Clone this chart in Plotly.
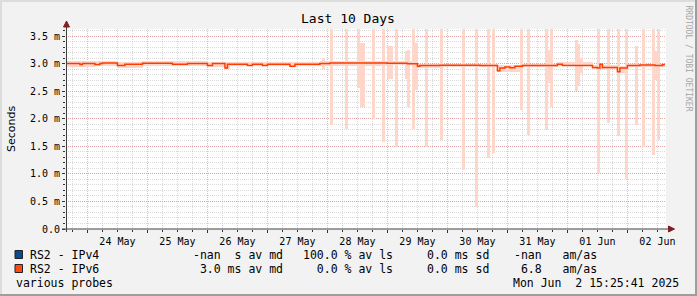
import plotly.graph_objects as go
import pandas as pd

# ---------------- data ----------------
END = pd.Timestamp("2025-06-02 15:25:41")
START = END - pd.Timedelta(days=10)
BASE = pd.Timestamp("2025-05-24 00:00:00")   # hour offsets below are relative to this

# IPv6 median RTT (ms) - step change points (hour offset, value)
med_t = [-9, -3, -2, 3, 5, 6, 12, 15, 22, 34, 40, 48, 50, 55, 56, 64, 66, 70, 72, 81,
         83, 93, 97, 120, 128, 132, 133, 141, 157, 164, 165, 167, 169, 171, 174, 188, 190, 202, 204, 205,
         206, 212, 213, 216, 221, 227, 230, 231]
med_v = [3.00, 2.985, 3.00, 2.985, 3.00, 3.01, 2.965, 2.99, 3.005, 2.99, 3.00, 2.965, 3.00, 2.92, 2.99, 2.965, 2.99, 2.965, 2.99, 2.95,
         2.99, 3.00, 3.01, 3.005, 2.995, 2.95, 2.965, 2.97, 2.965, 2.87, 2.92, 2.94, 2.925, 2.95, 2.965, 2.99, 2.965, 2.93, 2.92, 2.99,
         2.93, 2.85, 2.92, 2.965, 2.975, 2.965, 2.985, 2.985]

# smoke band around the median (hour offset, low, high)
band_t = [-9, 3, 12, 22, 48, 55, 57, 81, 84, 93, 120, 132, 141, 164, 174, 188, 202, 212, 216, 231]
band_hi = [3.04, 3.04, 3.03, 3.04, 3.03, 3.02, 3.03, 3.02, 3.03, 3.04, 3.04, 3.00, 3.00, 2.97, 3.00, 3.02, 2.97, 2.95, 3.00, 3.00]
band_lo = [2.94, 2.95, 2.92, 2.96, 2.93, 2.90, 2.95, 2.93, 2.95, 2.96, 2.97, 2.92, 2.93, 2.85, 2.93, 2.95, 2.90, 2.83, 2.93, 2.93]

# smoke spikes (hour offset, low, high)
spike_h = [94, 97, 103, 108, 109, 110, 114, 118, 120, 121, 123, 127, 128, 130, 131, 135, 141, 150, 155, 160,
           162, 173, 176, 183, 184, 185, 195, 196, 197, 204, 208, 212, 215, 219, 222, 226, 227, 228]
spike_lo = [2.90, 1.88, 1.81, 2.55, 2.21, 2.21, 2.00, 1.57, 2.72, 2.72, 1.48, 2.72, 2.21, 1.81, 2.52, 1.49, 1.62, 1.07, 0.40, 1.29,
            1.37, 2.15, 1.71, 1.80, 2.65, 2.22, 2.50, 2.60, 2.83, 1.01, 1.93, 1.68, 0.91, 1.89, 1.48, 1.34, 2.70, 1.62]
spike_hi = [3.10, 3.80, 3.80, 3.80, 3.38, 3.38, 3.80, 3.80, 3.31, 3.31, 3.80, 3.22, 3.25, 3.80, 3.37, 3.80, 3.80, 3.80, 3.80, 3.80,
            3.80, 3.80, 3.80, 3.80, 3.25, 3.80, 3.43, 3.35, 3.10, 3.80, 3.80, 3.80, 3.80, 3.31, 3.80, 3.80, 3.22, 3.80]

y_tick_vals = [0.0, 0.5, 1.0, 1.5, 2.0, 2.5, 3.0, 3.5]
y_tick_text = ["0.0", "0.5 m", "1.0 m", "1.5 m", "2.0 m", "2.5 m", "3.0 m", "3.5 m"]

title = "Last 10 Days"
y_title = "Seconds"
legend_names = ["RS2 - IPv4", "RS2 - IPv6"]
legend_colors = ["#0B4A8B", "#FF4A10"]
col_md = ["-nan  s av md", " 3.0 ms av md"]
col_ls = ["100.0 % av ls", "  0.0 % av ls"]
col_sd = ["0.0 ms sd", "0.0 ms sd"]
col_am = ["-nan   am/as", " 6.8   am/as"]
footer_left = "various probes"
footer_right = "Mon Jun  2 15:25:41 2025"
watermark = "RRDTOOL / TOBI OETIKER"

# ---------------- geometry ----------------
W, H = 697, 296
L, T, PW, PH = 66, 29, 600, 200
B = H - T - PH
R = W - L - PW
MONO = "DejaVu Sans Mono"


def px2x(px):
    return (px - L) / PW


def px2y(py):
    return (T + PH - py) / PH


def hts(h):
    return BASE + pd.to_timedelta(h, unit="h")


# hourly smoke table built from band + spikes
hours = list(range(-9, 231))
s_lo, s_hi = [], []
for h in hours:
    i = max(k for k, t in enumerate(band_t) if t <= h)
    lo, hi = band_lo[i], band_hi[i]
    if h in spike_h:
        j = spike_h.index(h)
        lo, hi = min(lo, spike_lo[j]), max(hi, spike_hi[j])
    s_lo.append(lo)
    s_hi.append(hi)

fig = go.Figure()
fig.add_trace(go.Bar(
    x=[hts(h + 0.5) for h in hours],
    y=[u - l for l, u in zip(s_lo, s_hi)],
    base=s_lo,
    width=3600000 * 1.2,
    marker=dict(color="#FFD6CA", line=dict(width=0)),
    hoverinfo="skip",
))
fig.add_trace(go.Scatter(
    x=[hts(h) for h in med_t], y=med_v, mode="lines",
    line=dict(color="#FF3C00", width=1.5, shape="hv"), hoverinfo="skip",
))

grid_major = "rgba(225,100,100,0.45)"
grid_minor = "rgba(140,140,140,0.32)"

fig.update_layout(
    width=W, height=H,
    margin=dict(l=L, r=R, t=T, b=B, pad=0),
    paper_bgcolor="#F2F2F2", plot_bgcolor="#FFFFFF",
    showlegend=False, bargap=0,
    font=dict(family=MONO, size=10, color="#000000"),
)
fig.update_xaxes(
    type="date", range=[START, END], fixedrange=True,
    showline=False, zeroline=False,
    showgrid=True, gridcolor=grid_major, griddash="1px,1px", gridwidth=1,
    tick0=BASE, dtick=86400000, tickformat="%d %b", ticklabelmode="period",
    ticks="outside", ticklen=3, tickcolor="#333333",
    tickfont=dict(family=MONO, size=10, color="#000000"),
    minor=dict(tickmode="linear", tick0=BASE, dtick=21600000, showgrid=True,
               gridcolor=grid_minor, griddash="1px,1px", gridwidth=1,
               ticks="outside", ticklen=2, tickcolor="#333333"),
)
fig.update_yaxes(
    range=[0, 3.627], fixedrange=True,
    showline=False, zeroline=False,
    tickmode="array", tickvals=y_tick_vals, ticktext=y_tick_text,
    showgrid=True, gridcolor=grid_major, griddash="1px,1px", gridwidth=1,
    ticks="outside", ticklen=3, tickcolor="#333333",
    tickfont=dict(family=MONO, size=10, color="#000000"),
    minor=dict(tickmode="linear", tick0=0, dtick=0.1, showgrid=True,
               gridcolor=grid_minor, griddash="1px,1px", gridwidth=1,
               ticks="outside", ticklen=2, tickcolor="#333333"),
)

shapes = []
# image border (3D shade)
shapes.append(dict(type="rect", xref="paper", yref="paper", x0=px2x(0), x1=px2x(W), y0=px2y(H), y1=px2y(H - 2),
                   fillcolor="#9E9E9E", line=dict(width=0)))
shapes.append(dict(type="rect", xref="paper", yref="paper", x0=px2x(W - 2), x1=px2x(W), y0=px2y(H), y1=px2y(0),
                   fillcolor="#9E9E9E", line=dict(width=0)))
shapes.append(dict(type="rect", xref="paper", yref="paper", x0=px2x(0), x1=px2x(W - 2), y0=px2y(2), y1=px2y(0),
                   fillcolor="#DCDCDC", line=dict(width=0)))
shapes.append(dict(type="rect", xref="paper", yref="paper", x0=px2x(0), x1=px2x(2), y0=px2y(H - 2), y1=px2y(0),
                   fillcolor="#DCDCDC", line=dict(width=0)))
# axes lines
shapes.append(dict(type="line", xref="paper", yref="paper", x0=px2x(66.5), x1=px2x(66.5), y0=px2y(232), y1=px2y(25),
                   line=dict(color="#404040", width=1)))
shapes.append(dict(type="line", xref="paper", yref="paper", x0=px2x(62), x1=px2x(670), y0=px2y(229), y1=px2y(229),
                   line=dict(color="#404040", width=1)))
# arrows
ya = "M {} {} L {} {} L {} {} Z".format(px2x(66.5), px2y(21), px2x(63.5), px2y(27), px2x(69.5), px2y(27))
xa = "M {} {} L {} {} L {} {} Z".format(px2x(674.5), px2y(229), px2x(668.5), px2y(226), px2x(668.5), px2y(232))
for p in (ya, xa):
    shapes.append(dict(type="path", xref="paper", yref="paper", path=p,
                       fillcolor="#7F1F1F", line=dict(color="#7F1F1F", width=1)))
# legend boxes
for k, c in enumerate(legend_colors):
    yc = 254.5 + 14 * k
    shapes.append(dict(type="rect", xref="paper", yref="paper", x0=px2x(15), x1=px2x(22.5),
                       y0=px2y(yc + 4), y1=px2y(yc - 4), fillcolor=c, line=dict(color="#222222", width=1)))
fig.update_layout(shapes=shapes)


def nb(s):
    return s.replace(" ", "\u00a0")


ann = []


def add_text(txt, px, py, size=11.5, xanchor="left", angle=0, color="#000000", family=MONO):
    ann.append(dict(text=nb(txt), x=px2x(px), y=px2y(py), xref="paper", yref="paper",
                    xanchor=xanchor, yanchor="middle", showarrow=False, textangle=angle,
                    font=dict(family=family, size=size, color=color), borderpad=0))


add_text(title, 348, 19, size=13, xanchor="center")
add_text(y_title, 11, 129, size=11, xanchor="center", angle=-90, family="DejaVu Sans")
add_text(watermark, 688.5, 58, size=8, xanchor="center", angle=90, color="#A6A6A6")
for k in range(2):
    yc = 254.5 + 14 * k
    add_text(legend_names[k], 29, yc)
    add_text(col_md[k], 192, yc)
    add_text(col_ls[k], 302, yc)
    add_text(col_sd[k], 426, yc)
    add_text(col_am[k], 513, yc)
add_text(footer_left, 15, 282.5)
add_text(footer_right, 511.5, 282.5)
fig.update_layout(annotations=ann)

fig.write_html("out.html")
